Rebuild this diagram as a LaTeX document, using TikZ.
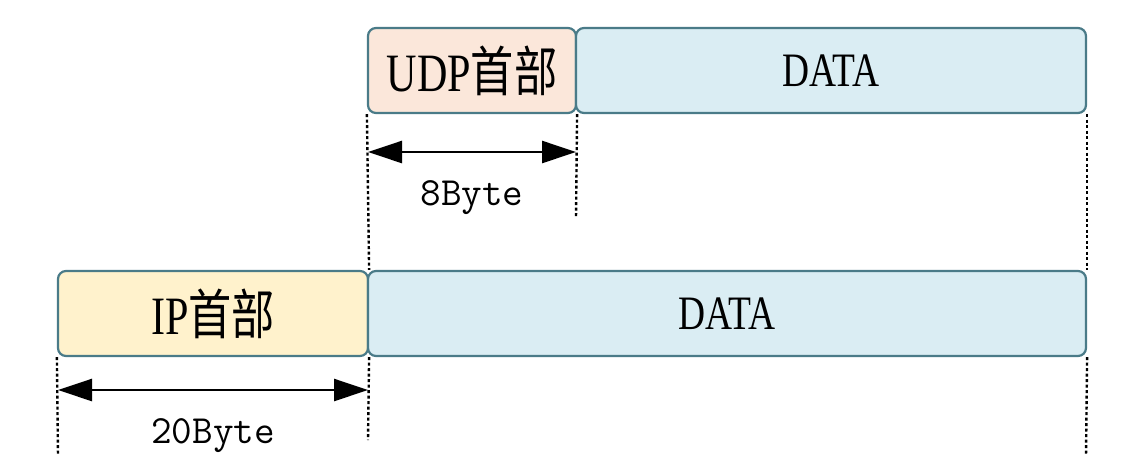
\documentclass[tikz,border=0pt]{standalone}
\usepackage{fontspec}
\setmainfont{Liberation Serif}[FakeStretch=0.78]
\newfontfamily\cjk{Noto Sans CJK SC}[FakeStretch=0.8]
\usepackage{tikz}
\usetikzlibrary{arrows.meta}

\definecolor{udpfill}{HTML}{FBE7DA}
\definecolor{ipfill}{HTML}{FFF2CC}
\definecolor{datafill}{HTML}{DAEDF3}
\definecolor{edge}{HTML}{4A7B88}

\begin{document}
\begin{tikzpicture}[x=1pt, y=-1pt,
    field/.style={draw=edge, line width=2.2pt, rounded corners=8pt, inner sep=0pt, minimum height=85pt},
    guide/.style={line width=2.4pt, black, dash pattern=on 3pt off 2.5pt},
    dim/.style={{Triangle[length=34pt,width=22pt]}-{Triangle[length=34pt,width=22pt]}, line width=2.5pt},
    lbl/.style={font=\fontsize{54}{60}\selectfont},
    sz/.style={font=\ttfamily\fontsize{40}{46}\selectfont}]
  \useasboundingbox (0,0) rectangle (1132,456);

  % upper row
  \node [field, fill=udpfill, minimum width=208pt, lbl] (udp) at (472, 70.5) {UDP{\cjk 首部}};
  \node [field, fill=datafill, minimum width=510pt, font=\fontsize{48}{54}\selectfont] (udpdata) at (831, 70.5) {DATA};

  % lower row
  \node [field, fill=ipfill, minimum width=310pt, lbl] (ip) at (213, 313.5) {IP{\cjk 首部}};
  \node [field, fill=datafill, minimum width=718pt, font=\fontsize{48}{54}\selectfont] (ipdata) at (727, 313.5) {DATA};

  \coordinate (ue) at (576, 218);
  \coordinate (ie) at (368, 440);
  \coordinate (de) at (1086, 456);
  \coordinate (le) at (58, 456);

  \draw [guide] (udp.south west) -- (ip.north east);
  \draw [guide] (ip.south east) -- (ie);
  \draw [guide] (udp.south east) -- (ue);
  \draw [guide] (udpdata.south east) -- (ipdata.north east);
  \draw [guide] (ipdata.south east) -- (de);
  \draw [guide] (ip.south west) -- (le);

  \coordinate (ua) at (368, 152);
  \coordinate (ub) at (576, 152);
  \coordinate (ia) at (58, 390);
  \coordinate (ib) at (368, 390);

  \draw [dim] (ua) -- (ub) node [pos=0.5, below=24pt, sz] (ulen) {8Byte};
  \draw [dim] (ia) -- (ib) node [pos=0.5, below=24pt, sz] (ilen) {20Byte};
\end{tikzpicture}
\end{document}
